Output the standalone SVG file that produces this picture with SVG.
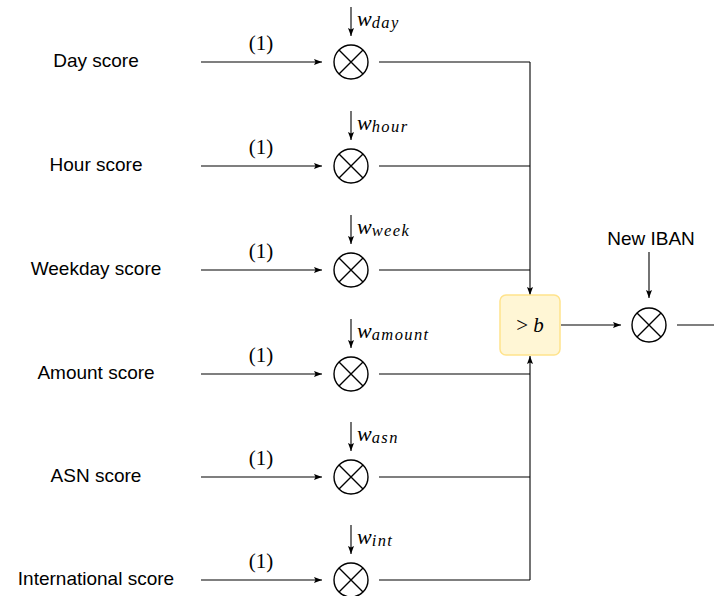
<svg xmlns="http://www.w3.org/2000/svg" width="714" height="596" viewBox="0 0 714 596">
  <style>
    .lbl { font-family: "Liberation Sans", Arial, sans-serif; font-size: 19px; fill: #000; text-anchor: middle; }
    .math { font-family: "Liberation Serif", "Times New Roman", serif; font-size: 21px; fill: #000; }
    .w { font-style: italic; font-size: 22px; }
    .sub { font-family: "Liberation Serif", "Times New Roman", serif; font-style: italic; font-size: 16.5px; letter-spacing: 1.4px; }
    .edge { fill: none; stroke: #000; stroke-width: 1.1; }
    .arr { marker-end: url(#tip); }
    .thr rect { fill: #fff6d5; stroke: #ffe38c; stroke-width: 1.5; }
  </style>
  <defs>
    <marker id="tip" viewBox="0 0 8 6" refX="8" refY="3" markerWidth="8" markerHeight="6" markerUnits="userSpaceOnUse" orient="auto">
      <path d="M0,0 L8,3 L0,6 L1.5,3 Z" fill="#000"/>
    </marker>
    <!-- multiplier: circle with a cross -->
    <g id="otimes" fill="none" stroke="#000" stroke-width="1.4">
      <circle cx="0" cy="0" r="17" fill="#fff"/>
      <path d="M-12,-12 L12,12 M-12,12 L12,-12"/>
    </g>
  </defs>

  <rect width="714" height="596" fill="#fff"/>

  <!-- connectors -->
  <g id="connectors">
    <!-- inputs into multipliers -->
    <path class="edge arr" d="M201,62 H322"/>
    <path class="edge arr" d="M201,166 H322"/>
    <path class="edge arr" d="M201,270 H322"/>
    <path class="edge arr" d="M201,374 H322"/>
    <path class="edge arr" d="M201,477 H322"/>
    <path class="edge arr" d="M201,580 H322"/>
    <!-- weights into multipliers -->
    <path class="edge arr" d="M351,7 V36"/>
    <path class="edge arr" d="M351,111 V140"/>
    <path class="edge arr" d="M351,215 V244"/>
    <path class="edge arr" d="M351,319 V348"/>
    <path class="edge arr" d="M351,422 V451"/>
    <path class="edge arr" d="M351,525 V554"/>
    <!-- products to threshold bus -->
    <path class="edge" d="M379,62 H530"/>
    <path class="edge" d="M379,166 H530"/>
    <path class="edge" d="M379,270 H530"/>
    <path class="edge" d="M379,374 H530"/>
    <path class="edge" d="M379,477 H530"/>
    <path class="edge" d="M379,580 H530"/>
    <path class="edge arr" d="M530,62 V295"/>
    <path class="edge arr" d="M530,580 V356"/>
    <!-- threshold to final gate -->
    <path class="edge arr" d="M561,325 H621"/>
    <path class="edge arr" d="M649,252 V298"/>
    <path class="edge" d="M677,325 H714"/>
  </g>

  <!-- input labels -->
  <g id="in-day"><text class="lbl" x="96" y="67">Day score</text></g>
  <g id="in-hour"><text class="lbl" x="96" y="171">Hour score</text></g>
  <g id="in-week"><text class="lbl" x="96" y="275">Weekday score</text></g>
  <g id="in-amount"><text class="lbl" x="96" y="379">Amount score</text></g>
  <g id="in-asn"><text class="lbl" x="96" y="482">ASN score</text></g>
  <g id="in-int"><text class="lbl" x="96" y="585">International score</text></g>

  <!-- edge labels (1) -->
  <g id="edge-labels" class="math" text-anchor="middle">
    <text x="261" y="50">(1)</text>
    <text x="261" y="154">(1)</text>
    <text x="261" y="258">(1)</text>
    <text x="261" y="362">(1)</text>
    <text x="261" y="465">(1)</text>
    <text x="261" y="568">(1)</text>
  </g>

  <!-- weight labels -->
  <g id="weights" class="math">
    <text x="357" y="26"><tspan class="w">w</tspan><tspan class="sub" dy="2">day</tspan></text>
    <text x="357" y="130"><tspan class="w">w</tspan><tspan class="sub" dy="2">hour</tspan></text>
    <text x="357" y="234"><tspan class="w">w</tspan><tspan class="sub" dy="2">week</tspan></text>
    <text x="357" y="338"><tspan class="w">w</tspan><tspan class="sub" dy="2">amount</tspan></text>
    <text x="357" y="441"><tspan class="w">w</tspan><tspan class="sub" dy="2">asn</tspan></text>
    <text x="357" y="544"><tspan class="w">w</tspan><tspan class="sub" dy="2">int</tspan></text>
  </g>

  <!-- multipliers -->
  <g id="mul-day"><use href="#otimes" x="351" y="62"/></g>
  <g id="mul-hour"><use href="#otimes" x="351" y="166"/></g>
  <g id="mul-week"><use href="#otimes" x="351" y="270"/></g>
  <g id="mul-amount"><use href="#otimes" x="351" y="374"/></g>
  <g id="mul-asn"><use href="#otimes" x="351" y="477"/></g>
  <g id="mul-int"><use href="#otimes" x="351" y="580"/></g>

  <!-- threshold -->
  <g id="threshold" class="thr">
    <rect x="500" y="295" width="60" height="60" rx="6"/>
    <text class="math" x="530" y="332" text-anchor="middle">&gt; <tspan font-style="italic">b</tspan></text>
  </g>

  <!-- new IBAN gate -->
  <g id="iban-label"><text class="lbl" x="651" y="245">New IBAN</text></g>
  <g id="mul-iban"><use href="#otimes" x="649" y="325"/></g>
</svg>
